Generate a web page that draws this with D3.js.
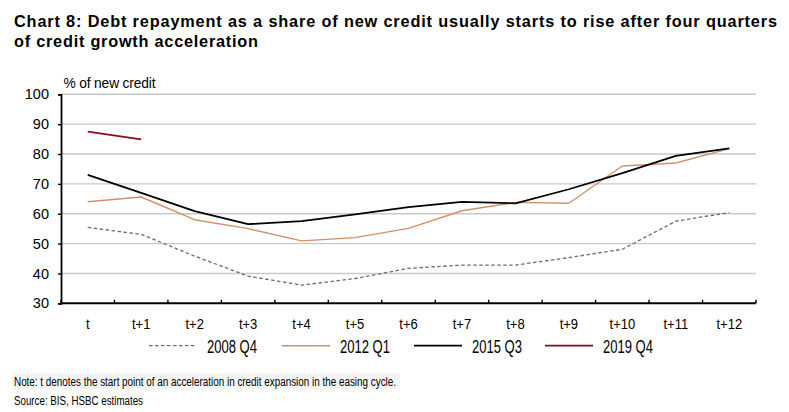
<!DOCTYPE html>
<html><head><meta charset="utf-8">
<script src="https://cdn.jsdelivr.net/npm/d3@7"></script>
<style>
html,body{margin:0;padding:0;background:#fff;}
svg{display:block;}
</style></head>
<body>
<svg id="c" width="789" height="412"></svg>
<script>
const categories = ["t","t+1","t+2","t+3","t+4","t+5","t+6","t+7","t+8","t+9","t+10","t+11","t+12"];
const s2008 = [55.4,53.1,45.8,39.1,36.1,38.3,41.7,42.8,42.8,45.3,48.1,57.5,60.4];
const s2012 = [64.0,65.6,58.0,55.0,50.9,52.0,55.1,61.0,63.8,63.5,76.0,77.0,81.8];
const s2015 = [73.0,67.0,60.9,56.5,57.5,59.8,62.2,64.0,63.5,68.2,73.6,79.4,81.9];
const s2019 = [87.5,84.9];
const yTicks = [30,40,50,60,70,80,90,100];
const seriesNames = ["2008 Q4","2012 Q1","2015 Q3","2019 Q4"];
const titleLines = ["Chart 8: Debt repayment as a share of new credit usually starts to rise after four quarters","of credit growth acceleration"];
const yAxisTitle = "% of new credit";
const noteText = "Note: t denotes the start point of an acceleration in credit expansion in the easing cycle.";
const sourceText = "Source: BIS, HSBC estimates";

const series = [
  {name: seriesNames[0], values: s2008, color: "#6b6b6b", width: 1.3, dash: "3.5,2.5"},
  {name: seriesNames[1], values: s2012, color: "#d0916a", width: 1.4, dash: null},
  {name: seriesNames[2], values: s2015, color: "#000000", width: 1.8, dash: null},
  {name: seriesNames[3], values: s2019, color: "#8c0a1c", width: 1.8, dash: null}
];

const svg = d3.select("#c");
const regular = "'Liberation Sans',Arial,sans-serif";

// title
const tt = svg.append("g");
tt.append("text").attr("x",14).attr("y",26.7).attr("font-family",regular).attr("font-weight","bold")
  .attr("font-size",16.3).attr("fill","#000").attr("textLength",763).attr("lengthAdjust","spacing").text(titleLines[0]);
tt.append("text").attr("x",14).attr("y",46.7).attr("font-family",regular).attr("font-weight","bold")
  .attr("font-size",16.3).attr("fill","#000").attr("textLength",244).attr("lengthAdjust","spacing").text(titleLines[1]);

const x = d3.scaleBand().domain(categories).range([61,756]).padding(0);
const y = d3.scaleLinear().domain([30,100]).range([303.3,94.3]);

// gridlines
svg.append("g").selectAll("line").data(yTicks.filter(d=>d>30)).join("line")
  .attr("x1",61).attr("x2",756).attr("y1",d=>y(d)).attr("y2",d=>y(d))
  .attr("stroke","#c9c9c9").attr("stroke-width",1.4);

// y axis
const yAxis = d3.axisLeft(y).tickValues(yTicks).tickSize(3).tickPadding(9).tickFormat(d3.format("d"));
const gy = svg.append("g").attr("transform","translate(61,0)").call(yAxis);
gy.select(".domain").attr("stroke","#000").attr("stroke-width",1.8);
gy.selectAll(".tick line").attr("stroke","#000").attr("stroke-width",1.4);
gy.selectAll(".tick text").attr("font-family",regular).attr("font-size",14.5).attr("fill","#000");

// x axis
const gx = svg.append("g").attr("transform","translate(0,303.3)");
gx.append("line").attr("x1",61).attr("x2",756).attr("y1",0).attr("y2",0).attr("stroke","#000").attr("stroke-width",2);
const bounds = categories.map(c=>x(c)).concat([x(categories[categories.length-1])+x.bandwidth()]);
gx.selectAll("line.tk").data(bounds).join("line").attr("class","tk")
  .attr("x1",d=>d).attr("x2",d=>d).attr("y1",0).attr("y2",-3.5).attr("stroke","#000").attr("stroke-width",1.4);
gx.selectAll("text").data(categories).join("text")
  .attr("transform",d=>`translate(${x(d)+x.bandwidth()/2},26) scale(0.84,1)`).attr("text-anchor","middle")
  .attr("font-family",regular).attr("font-size",15.5).attr("fill","#000").text(d=>d);

// y axis title
svg.append("text").attr("x",63.5).attr("y",88.3).attr("font-family",regular).attr("font-size",13.8)
  .attr("fill","#000").attr("textLength",92).attr("lengthAdjust","spacing").text(yAxisTitle);

// lines
const line = d3.line().x((d,i)=>x(categories[i])+x.bandwidth()/2).y(d=>y(d));
svg.append("g").selectAll("path").data(series).join("path")
  .attr("d",d=>line(d.values)).attr("fill","none")
  .attr("stroke",d=>d.color).attr("stroke-width",d=>d.width)
  .attr("stroke-dasharray",d=>d.dash).attr("stroke-linejoin","round");

// legend
const legX = [149,282,414,545];
const lg = svg.append("g");
series.forEach((s,i)=>{
  lg.append("line").attr("x1",legX[i]).attr("x2",legX[i]+48).attr("y1",345.7).attr("y2",345.7)
    .attr("stroke",s.color).attr("stroke-width",s.width).attr("stroke-dasharray",s.dash);
  lg.append("text").attr("x",legX[i]+58).attr("y",353.3).attr("font-family",regular).attr("font-size",18)
    .attr("fill","#000").attr("textLength",50).attr("lengthAdjust","spacingAndGlyphs").text(s.name);
});

// note & source
svg.append("rect").attr("x",12).attr("y",373).attr("width",388).attr("height",16).attr("fill","#f5f5f5");
svg.append("text").attr("x",14).attr("y",385.7).attr("font-family",regular).attr("font-size",12.5)
  .attr("fill","#000").attr("textLength",382).attr("lengthAdjust","spacingAndGlyphs").text(noteText);
svg.append("text").attr("x",14).attr("y",405).attr("font-family",regular).attr("font-size",12.5)
  .attr("fill","#000").attr("textLength",129).attr("lengthAdjust","spacingAndGlyphs").text(sourceText);
</script>
</body></html>
